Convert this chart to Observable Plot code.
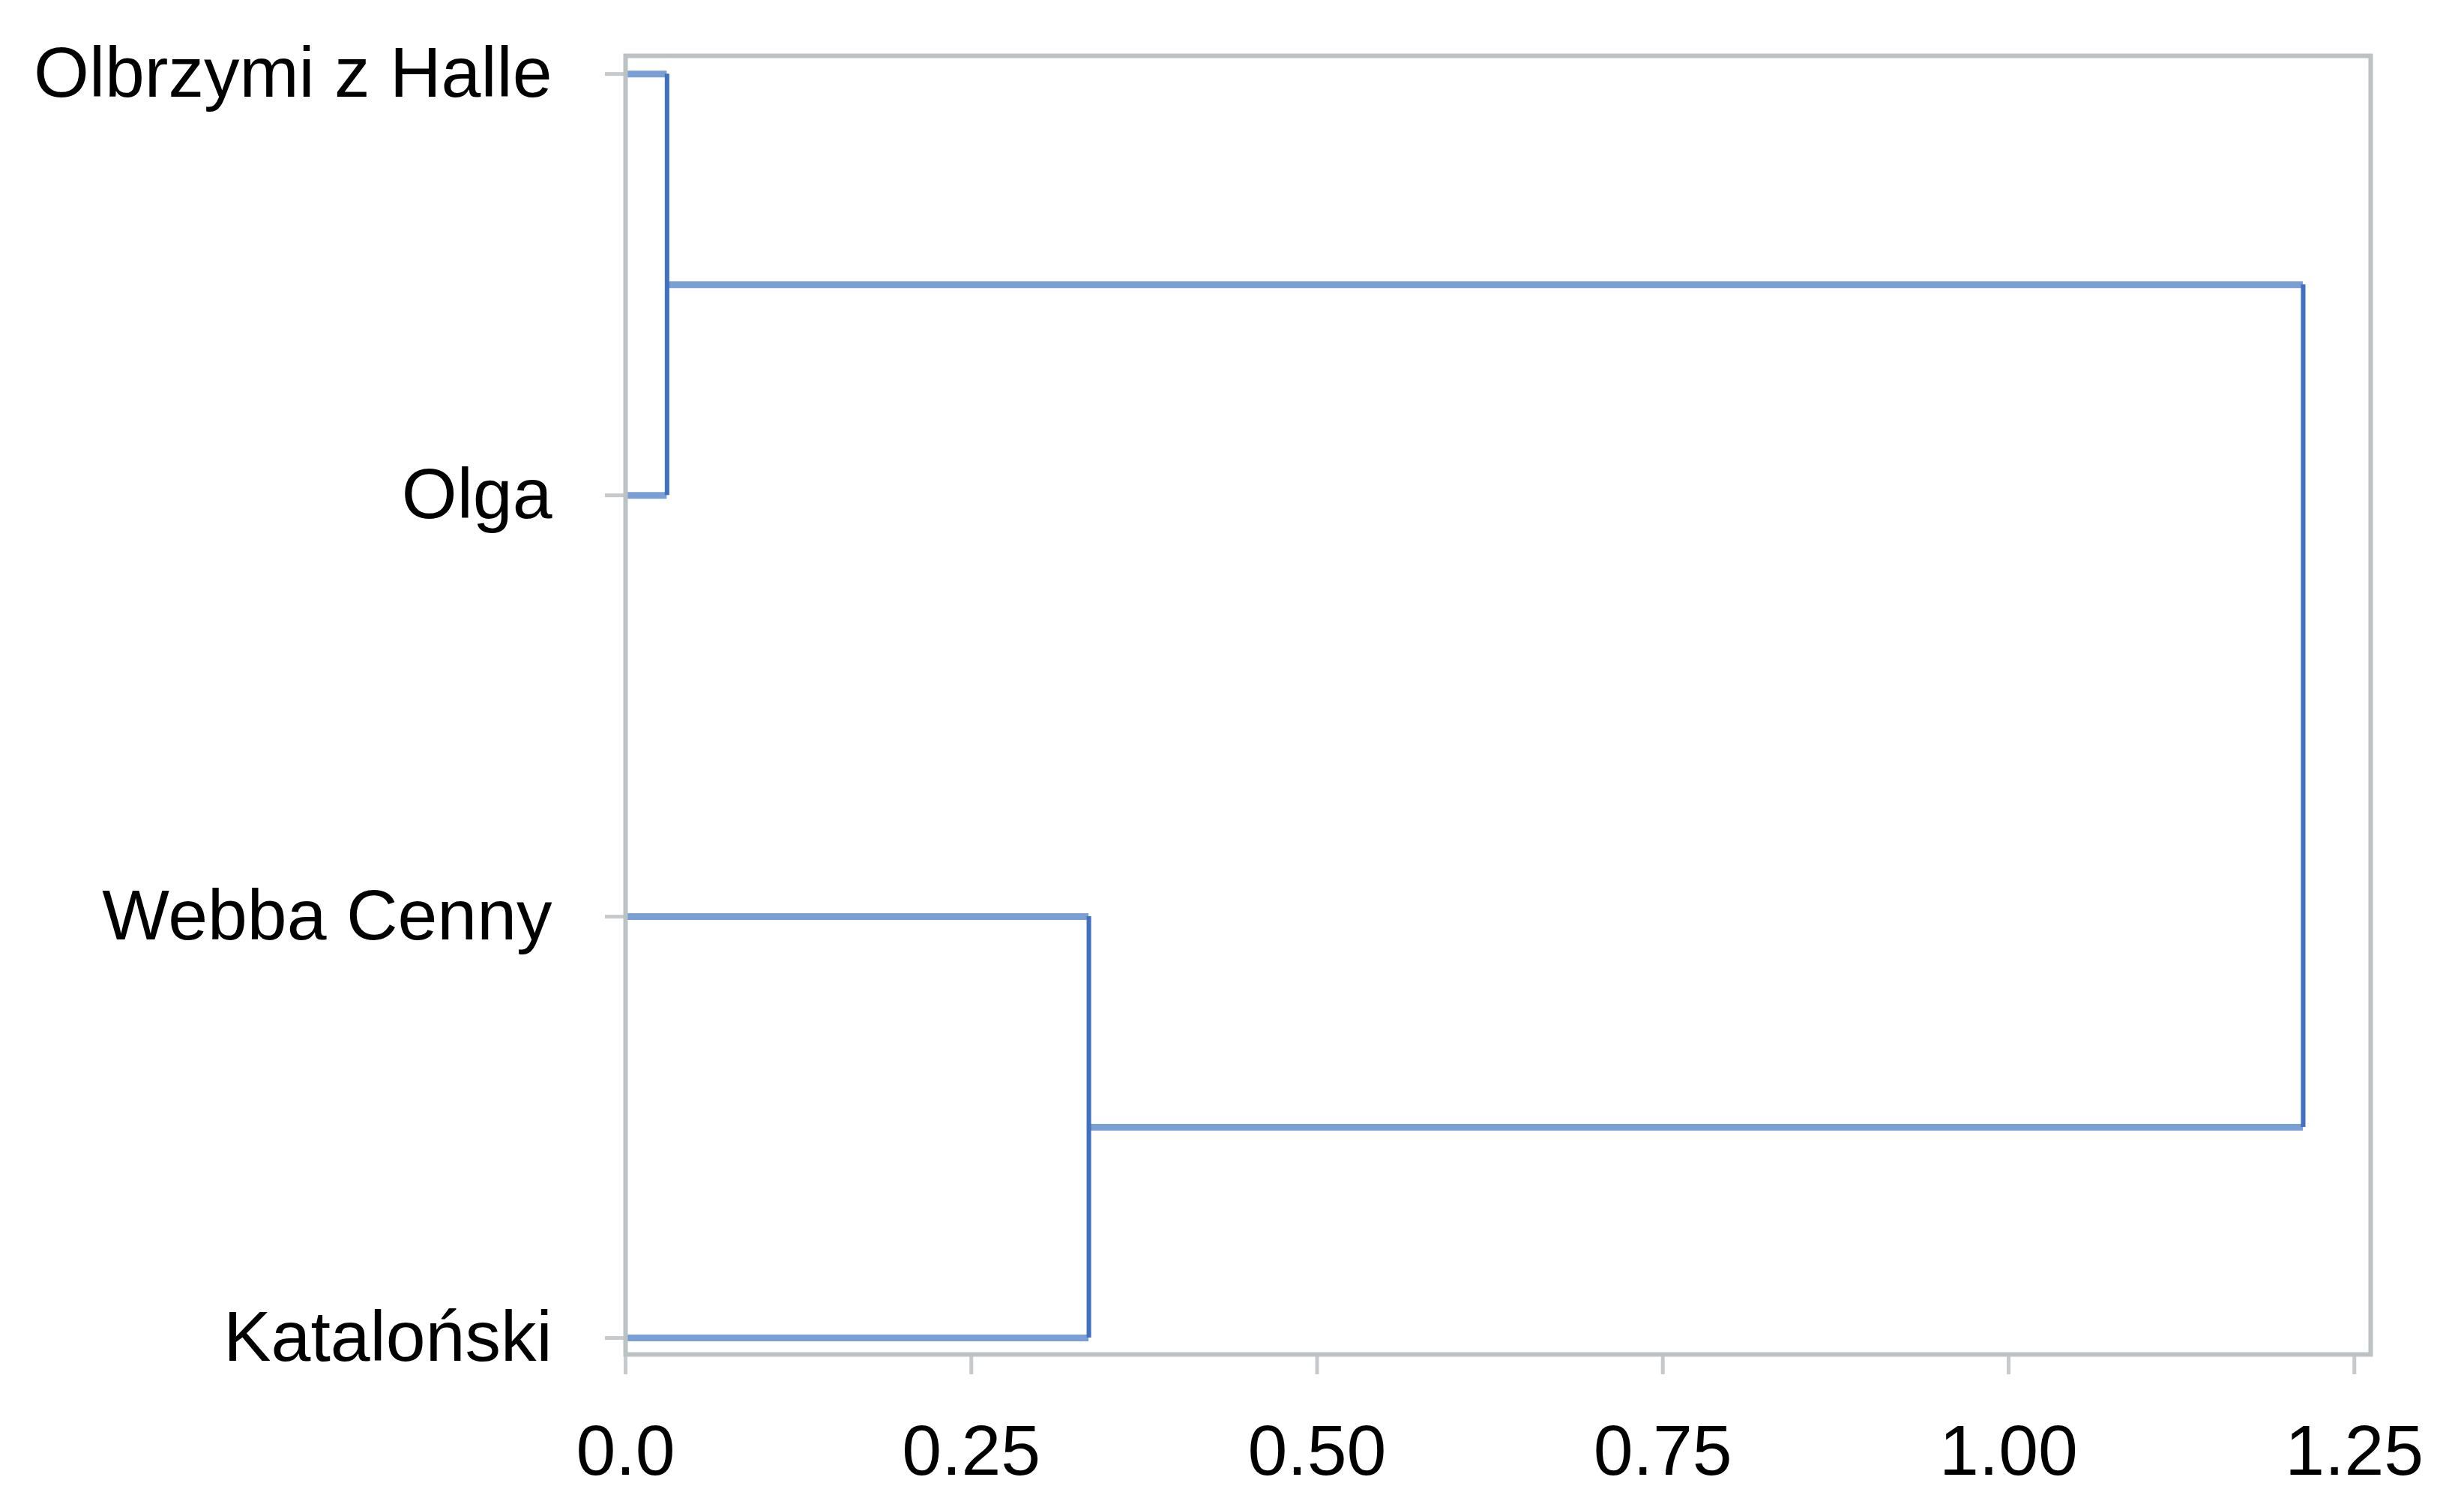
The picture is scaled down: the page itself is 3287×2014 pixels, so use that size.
<!DOCTYPE html>
<html>
<head>
<meta charset="utf-8">
<script src="https://cdn.jsdelivr.net/npm/d3@7"></script>
<script src="https://cdn.jsdelivr.net/npm/@observablehq/plot@0.6"></script>
<style>
  html, body { margin: 0; padding: 0; background: #ffffff; }
  #chart { width: 3287px; height: 2014px; }
</style>
</head>
<body>
<div id="chart"></div>
<script>
// Leaves of the dendrogram (top to bottom)
const leaves = ["Olbrzymi z Halle", "Olga", "Webba Cenny", "Kataloński"];
// Linkage: [child A, child B, merge height]; indices >= leaves.length are earlier clusters
const linkage = [
  [0, 1, 0.030],
  [2, 3, 0.335],
  [4, 5, 1.213]
];
const xTicks = [0, 0.25, 0.5, 0.75, 1.0, 1.25];
const xTickLabels = ["0.0", "0.25", "0.50", "0.75", "1.00", "1.25"];

// Build segments from the linkage
const nodes = leaves.map((name, i) => ({x: 0, y: i}));
const horizontals = [];
const verticals = [];
for (const [a, b, h] of linkage) {
  const na = nodes[a], nb = nodes[b];
  horizontals.push({y: na.y, x1: na.x, x2: h});
  horizontals.push({y: nb.y, x1: nb.x, x2: h});
  verticals.push({x: h, y1: na.y, y2: nb.y});
  nodes.push({x: h, y: (na.y + nb.y) / 2});
}

const gray = "#bcc1c4";
const tickGray = "#c6cacd";
const font = "Liberation Sans, Arial, sans-serif";

const chart = Plot.plot({
  width: 3287,
  height: 2014,
  marginLeft: 834,
  marginRight: 125,
  marginTop: 74,
  marginBottom: 208,
  style: {fontFamily: font, fontSize: "95px", color: "#000", background: "#ffffff"},
  x: {domain: [0, 1.2618], label: null},
  y: {domain: [-0.043, 3.039], reverse: true, label: null},
  marks: [
    Plot.ruleY(horizontals, {y: "y", x1: "x1", x2: "x2", stroke: "#7a9ed6", strokeWidth: 9}),
    Plot.ruleX(verticals, {x: "x", y1: "y1", y2: "y2", stroke: "#3f70c1", strokeWidth: 6}),
    Plot.axisX({
      ticks: xTicks,
      tickFormat: (d) => xTickLabels[xTicks.indexOf(d)],
      tickSize: 27,
      tickPadding: 66,
      stroke: tickGray,
      strokeWidth: 5,
      fontSize: 95,
      fill: "#000",
      label: null
    }),
    Plot.axisY({
      ticks: leaves.map((d, i) => i),
      tickFormat: (i) => leaves[i],
      tickSize: 27,
      tickPadding: 71,
      stroke: tickGray,
      strokeWidth: 5,
      fontSize: 95,
      fill: "#000",
      label: null
    }),
    Plot.frame({stroke: gray, strokeWidth: 6})
  ]
});
document.getElementById("chart").appendChild(chart);
</script>
</body>
</html>
